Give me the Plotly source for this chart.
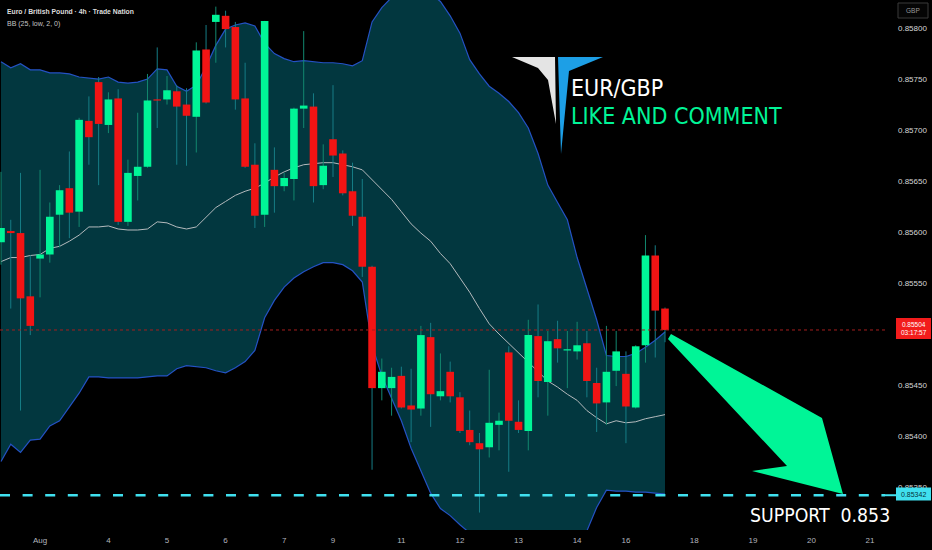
import plotly.graph_objects as go

# ---------------- data ----------------
candle_idx = list(range(69))

open_ = [0.85590, 0.85601, 0.85599, 0.85537, 0.85574, 0.85578, 0.85617, 0.85643, 0.85620, 0.85709,
         0.85747, 0.85705, 0.85731, 0.85610, 0.85655, 0.85664, 0.85730, 0.85730, 0.85738, 0.85725,
         0.85713, 0.85779, 0.85806, 0.85812, 0.85801, 0.85731, 0.85666, 0.85617, 0.85661, 0.85645,
         0.85652, 0.85721, 0.85723, 0.85646, 0.85691, 0.85677, 0.85640, 0.85615, 0.85566, 0.85447,
         0.85447, 0.85459, 0.85430, 0.85427, 0.85497, 0.85439, 0.85463, 0.85438, 0.85406, 0.85393,
         0.85389, 0.85411, 0.85482, 0.85414, 0.85405, 0.85498, 0.85453, 0.85495, 0.85484, 0.85483,
         0.85491, 0.85452, 0.85433, 0.85464, 0.85461, 0.85428, 0.85489, 0.85577, 0.85525]

high = [0.85659, 0.85612, 0.85658, 0.85577, 0.85661, 0.85629, 0.85646, 0.85679, 0.85712, 0.85733,
        0.85752, 0.85737, 0.85740, 0.85671, 0.85717, 0.85755, 0.85781, 0.85753, 0.85744, 0.85741,
        0.85786, 0.85803, 0.85821, 0.85817, 0.85806, 0.85766, 0.85687, 0.85807, 0.85683, 0.85658,
        0.85722, 0.85797, 0.85736, 0.85686, 0.85744, 0.85680, 0.85668, 0.85652, 0.85567, 0.85476,
        0.85467, 0.85468, 0.85466, 0.85508, 0.85511, 0.85481, 0.85473, 0.85443, 0.85425, 0.85403,
        0.85465, 0.85423, 0.85488, 0.85435, 0.85514, 0.85529, 0.85503, 0.85513, 0.85503, 0.85512,
        0.85503, 0.85467, 0.85508, 0.85503, 0.85483, 0.85489, 0.85597, 0.85587, 0.85526]

low = [0.85568, 0.85525, 0.85425, 0.85499, 0.85536, 0.85570, 0.85585, 0.85594, 0.85605, 0.85666,
       0.85646, 0.85697, 0.85607, 0.85606, 0.85631, 0.85663, 0.85702, 0.85725, 0.85666, 0.85665,
       0.85678, 0.85726, 0.85766, 0.85781, 0.85720, 0.85663, 0.85604, 0.85605, 0.85619, 0.85640,
       0.85631, 0.85702, 0.85629, 0.85642, 0.85654, 0.85636, 0.85606, 0.85556, 0.85367, 0.85435,
       0.85420, 0.85427, 0.85394, 0.85420, 0.85409, 0.85435, 0.85433, 0.85403, 0.85391, 0.85325,
       0.85379, 0.85386, 0.85365, 0.85403, 0.85386, 0.85438, 0.85420, 0.85472, 0.85447, 0.85475,
       0.85438, 0.85404, 0.85411, 0.85449, 0.85393, 0.85427, 0.85472, 0.85477, 0.85492]

close = [0.85604, 0.85599, 0.85535, 0.85508, 0.85578, 0.85615, 0.85641, 0.85619, 0.85710, 0.85693,
         0.85706, 0.85730, 0.85610, 0.85658, 0.85664, 0.85729, 0.85729, 0.85739, 0.85723, 0.85714,
         0.85778, 0.85727, 0.85813, 0.85799, 0.85730, 0.85664, 0.85616, 0.85807, 0.85645, 0.85653,
         0.85721, 0.85724, 0.85645, 0.85665, 0.85675, 0.85638, 0.85616, 0.85566, 0.85447, 0.85463,
         0.85458, 0.85428, 0.85426, 0.85499, 0.85441, 0.85444, 0.85439, 0.85405, 0.85394, 0.85387,
         0.85413, 0.85415, 0.85415, 0.85406, 0.85499, 0.85454, 0.85493, 0.85486, 0.85485, 0.85489,
         0.85454, 0.85432, 0.85463, 0.85483, 0.85429, 0.85488, 0.85577, 0.85523, 0.85504]

bb_upper = [0.85767, 0.85761, 0.85765, 0.85759, 0.85759, 0.85756, 0.85756, 0.85755, 0.85752, 0.85751,
            0.85750, 0.85752, 0.85747, 0.85746, 0.85747, 0.85750, 0.85760, 0.85759, 0.85743, 0.85738,
            0.85744, 0.85762, 0.85783, 0.85799, 0.85803, 0.85805, 0.85802, 0.85785, 0.85775, 0.85770,
            0.85767, 0.85768, 0.85767, 0.85766, 0.85766, 0.85765, 0.85763, 0.85768, 0.85806, 0.85820,
            0.85830, 0.85833, 0.85836, 0.85836, 0.85834, 0.85826, 0.85812, 0.85795, 0.85769, 0.85755,
            0.85743, 0.85736, 0.85728, 0.85717, 0.85702, 0.85677, 0.85646, 0.85629, 0.85612, 0.85575,
            0.85545, 0.85514, 0.85479, 0.85478, 0.85478, 0.85481, 0.85487, 0.85494, 0.85502]

bb_basis = [0.85571, 0.85575, 0.85575, 0.85577, 0.85578, 0.85584, 0.85586, 0.85591, 0.85597, 0.85605,
            0.85605, 0.85606, 0.85603, 0.85602, 0.85602, 0.85603, 0.85610, 0.85609, 0.85605, 0.85603,
            0.85605, 0.85615, 0.85624, 0.85630, 0.85636, 0.85640, 0.85643, 0.85648, 0.85654, 0.85659,
            0.85663, 0.85666, 0.85667, 0.85668, 0.85668, 0.85666, 0.85664, 0.85661, 0.85651, 0.85642,
            0.85632, 0.85620, 0.85608, 0.85599, 0.85591, 0.85579, 0.85569, 0.85555, 0.85541, 0.85525,
            0.85510, 0.85500, 0.85491, 0.85481, 0.85472, 0.85463, 0.85454, 0.85448, 0.85441, 0.85435,
            0.85425, 0.85418, 0.85412, 0.85415, 0.85413, 0.85414, 0.85417, 0.85419, 0.85421]

bb_lower = [0.85375, 0.85392, 0.85384, 0.85396, 0.85397, 0.85410, 0.85415, 0.85428, 0.85442, 0.85458,
            0.85458, 0.85457, 0.85457, 0.85457, 0.85457, 0.85458, 0.85459, 0.85459, 0.85466, 0.85469,
            0.85468, 0.85467, 0.85464, 0.85462, 0.85467, 0.85473, 0.85484, 0.85516, 0.85533, 0.85546,
            0.85555, 0.85561, 0.85566, 0.85570, 0.85570, 0.85568, 0.85562, 0.85551, 0.85489, 0.85459,
            0.85437, 0.85415, 0.85388, 0.85366, 0.85344, 0.85329, 0.85322, 0.85313, 0.85305, 0.85295,
            0.85280, 0.85268, 0.85258, 0.85250, 0.85246, 0.85248, 0.85258, 0.85266, 0.85275, 0.85292,
            0.85307, 0.85330, 0.85347, 0.85346, 0.85346, 0.85345, 0.85345, 0.85344, 0.85343]

x_tick_pos = [4, 11, 17, 23, 29, 34, 41, 47, 53, 59, 64, 71, 77, 83, 89]
x_tick_text = ["Aug", "4", "5", "6", "7", "9", "11", "12", "13", "14", "16", "18", "19", "20", "21"]
# 0.85500 is hidden behind the last-price label in the picture
y_tick_vals = [0.8535, 0.8540, 0.8545, 0.8555, 0.8560, 0.8565, 0.8570, 0.8575, 0.8580]

last_price = 0.85504
last_countdown = "03:17:57"
support_level = 0.85342
support_text = "SUPPORT\u00a0\u00a00.853"

# ---------------- styling ----------------
GREEN = "#00f597"
RED = "#f21414"
FILL = "#02373f"
BAND = "#2452c4"
BASIS = "#b4babd"
CYAN = "#40e0ef"
COND = "DejaVu Sans Condensed, DejaVu Sans"

PW, PH = 885.0, 530.0   # plot area in pixels
BODY_PX = 7.6           # candle body width in pixels
MIN_BODY = 0.000012     # smallest drawn body (about one pixel)


def P(x, y):
    """pixel position inside the plot area -> paper coords"""
    return x / PW, 1 - y / PH


def path(points):
    s = ""
    for k, (x, y) in enumerate(points):
        px, py = P(x, y)
        s += ("M" if k == 0 else "L") + f"{px:.5f},{py:.5f} "
    return s + "Z"


fig = go.Figure()

# Bollinger band fill + lines
fig.add_trace(go.Scatter(x=candle_idx, y=bb_upper, mode="lines",
                         line=dict(color=BAND, width=1.2), hoverinfo="skip"))
fig.add_trace(go.Scatter(x=candle_idx, y=bb_lower, mode="lines", fill="tonexty",
                         fillcolor=FILL, line=dict(color=BAND, width=1.2), hoverinfo="skip"))
fig.add_trace(go.Scatter(x=candle_idx, y=bb_basis, mode="lines",
                         line=dict(color=BASIS, width=1), hoverinfo="skip"))

# wicks and bodies (drawn as scatter segments so they sit above the band fill)
for up, wick_col, body_col in ((True, "#12886f", GREEN), (False, "#167d86", RED)):
    wx, wy, bx, by = [], [], [], []
    for i, o, h, l, c in zip(candle_idx, open_, high, low, close):
        if (c >= o) != up:
            continue
        wx += [i, i, None]
        wy += [h, l, None]
        lo_, hi_ = min(o, c), max(o, c)
        if hi_ - lo_ < MIN_BODY:
            mid = (hi_ + lo_) / 2
            lo_, hi_ = mid - MIN_BODY / 2, mid + MIN_BODY / 2
        bx += [i, i, None]
        by += [lo_, hi_, None]
    fig.add_trace(go.Scatter(x=wx, y=wy, mode="lines", line=dict(color=wick_col, width=1),
                             hoverinfo="skip"))
    fig.add_trace(go.Scatter(x=bx, y=by, mode="lines", line=dict(color=body_col, width=BODY_PX),
                             hoverinfo="skip"))

shapes = []
# current price dotted line
shapes.append(dict(type="line", xref="paper", yref="y", x0=0, x1=1, y0=last_price, y1=last_price,
                   line=dict(color="#a51e1e", width=1, dash="dot")))
# support dashed line
shapes.append(dict(type="line", xref="paper", yref="y", x0=0, x1=1, y0=support_level, y1=support_level,
                   line=dict(color=CYAN, width=2.6, dash="10px,12.6px")))
shapes.append(dict(type="line", xref="paper", yref="y", x0=1, x1=897 / PW, y0=support_level,
                   y1=support_level, line=dict(color=CYAN, width=2)))
# price-scale label boxes
bx0, _ = P(896, 0)
bx1, _ = P(931, 0)
_, r_top = P(0, 318)
_, r_bot = P(0, 339)
shapes.append(dict(type="rect", xref="paper", yref="paper", x0=bx0, x1=bx1, y0=r_bot, y1=r_top,
                   fillcolor="#f21c1c", line=dict(width=0)))
_, c_top = P(0, 487.5)
_, c_bot = P(0, 500.5)
shapes.append(dict(type="rect", xref="paper", yref="paper", x0=bx0, x1=bx1, y0=c_bot, y1=c_top,
                   fillcolor=CYAN, line=dict(width=0)))
# GBP box
g0, g_top = P(898, 3)
g1, g_bot = P(928, 18)
shapes.append(dict(type="rect", xref="paper", yref="paper", x0=g0, x1=g1, y0=g_bot, y1=g_top,
                   fillcolor="#050505", line=dict(color="#3a3a3a", width=1)))
# big green arrow
shapes.append(dict(type="path", xref="paper", yref="paper",
                   path=path([(671, 334), (822, 418), (843, 494), (752, 471), (787, 466), (668, 339)]),
                   fillcolor=GREEN, line=dict(width=0)))
# logo
shapes.append(dict(type="path", xref="paper", yref="paper",
                   path=path([(512, 57), (555, 57), (556, 124), (548, 80), (538, 68)]),
                   fillcolor="#e4e4e4", line=dict(width=0)))
shapes.append(dict(type="path", xref="paper", yref="paper",
                   path=path([(558, 57), (603, 57), (569, 71), (561, 154)]),
                   fillcolor="#1d9fe6", line=dict(width=0)))

ann = []


def text_at(x, y, txt, size, color, family="Liberation Sans", xanchor="left", **kw):
    px, py = P(x, y)
    d = dict(xref="paper", yref="paper", x=px, y=py, text=txt, showarrow=False,
             xanchor=xanchor, yanchor="middle", font=dict(size=size, color=color, family=family))
    d.update(kw)
    ann.append(d)


text_at(5, 12, "<b>Euro / British Pound · 4h · Trade Nation</b>", 6.8, "#dcdcdc")
text_at(5, 24, "BB (25, low, 2, 0)", 7, "#c4c4c4")
text_at(569, 88, "EUR/GBP", 23, "#ffffff", family=COND)
text_at(569, 116, "LIKE AND COMMENT", 23, GREEN, family=COND)
text_at(748, 515, support_text, 19.3, "#ffffff", family=COND)
text_at(913, 10.5, "GBP", 6.5, "#9a9a9a", xanchor="center")
text_at(913.5, 328.5, f"{last_price:.5f}<br>{last_countdown}", 6.5, "#ffffff", xanchor="center")
text_at(913.5, 494, f"{support_level:.5f}", 7, "#06323a", xanchor="center")

fig.update_layout(
    width=932, height=550,
    margin=dict(l=0, r=47, t=0, b=20),
    paper_bgcolor="#000000", plot_bgcolor="#000000",
    showlegend=False, hovermode=False,
    shapes=shapes, annotations=ann,
    xaxis=dict(range=[-0.102, 90.53], showgrid=False, zeroline=False, showline=False,
               tickmode="array", tickvals=x_tick_pos, ticktext=x_tick_text, ticks="",
               ticklabelstandoff=4,
               tickfont=dict(size=8, color="#b2b5be", family="Liberation Sans")),
    yaxis=dict(range=[0.853079, 0.858275], side="right", showgrid=False, zeroline=False,
               showline=False, tickmode="array", tickvals=y_tick_vals, tickformat=".5f",
               ticks="", ticklabelstandoff=12,
               tickfont=dict(size=8, color="#d6d6d6", family="Liberation Sans")),
)

fig.write_html("out.html", config={"displayModeBar": False},
               post_script="document.body.style.margin='0';document.body.style.overflow='hidden';")
